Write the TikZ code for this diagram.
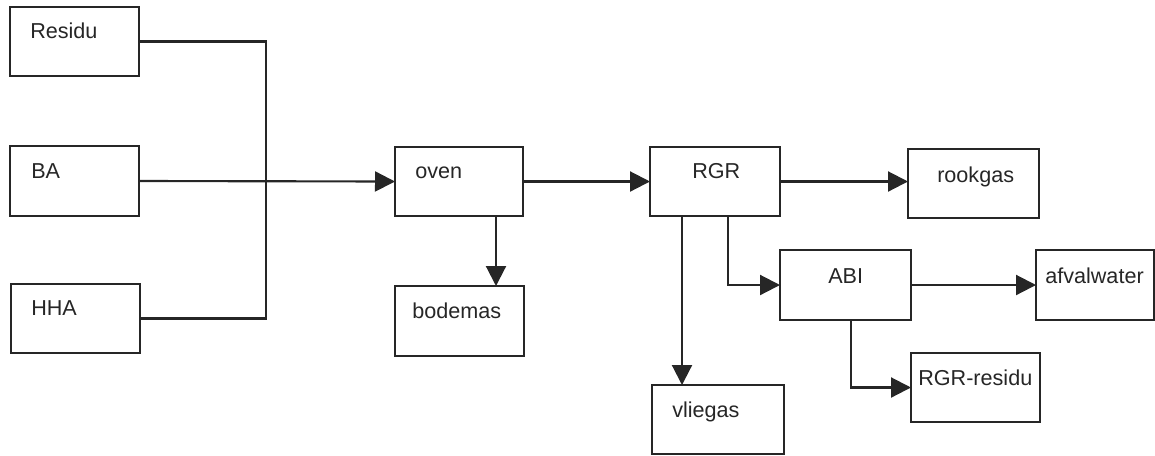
\documentclass[tikz,border=0pt]{standalone}
\usepackage{fontspec}
\setmainfont{Liberation Sans}
\usetikzlibrary{arrows.meta}
\definecolor{ink}{HTML}{262626}
\tikzset{
  box/.style 2 args={draw=ink, line width=1.6pt, rectangle, inner sep=0pt, outer sep=0pt,
    minimum width=#1*0.75pt, minimum height=#2*0.75pt},
  lbl/.style={anchor=base west, inner sep=0pt, font=\fontsize{16.2}{19}\selectfont, text=ink},
  conn/.style={draw=ink, line width=1.6pt},
  arr/.style={conn, -{Triangle[length=15pt, width=15pt]}},
}
\begin{document}
\begin{tikzpicture}[x=0.75pt, y=-0.75pt]
\useasboundingbox (0,0) rectangle (1155,455);
% boxes
\node[box={129}{69}] (residu) at (74.5,41.5) {};
\node[box={129}{70}] (ba) at (74.5,181) {};
\node[box={129}{69}] (hha) at (75.5,318.5) {};
\node[box={128}{69}] (oven) at (459,181.5) {};
\node[box={129}{70}] (bodemas) at (459.5,321) {};
\node[box={130}{69}] (rgr) at (715,181.5) {};
\node[box={132}{69}] (vliegas) at (718,419.5) {};
\node[box={131}{69}] (rookgas) at (973.5,183.5) {};
\node[box={131}{70}] (abi) at (845.5,285) {};
\node[box={118}{70}] (afval) at (1095,285) {};
\node[box={129}{69}] (rgrres) at (975.5,387.5) {};
% labels
\node[lbl] at (30,38) {Residu};
\node[lbl] at (31,178) {BA};
\node[lbl] at (31,315) {HHA};
\node[lbl] at (415,178) {oven};
\node[lbl] at (412,318) {bodemas};
\node[lbl] at (692,178) {RGR};
\node[lbl] at (672,417) {vliegas};
\node[lbl] at (937,182) {rookgas};
\node[lbl] at (828,283) {ABI};
\node[lbl] at (1045,283) {afvalwater};
\node[lbl] at (918,385) {RGR-residu};
% junction and helper coordinates
\coordinate (jn) at (266,181);
\coordinate (xbod) at (496,0);
\coordinate (xvl) at (682,0);
\coordinate (xabi) at (728,0);
\coordinate (xres) at (851,0);
% connectors
\draw[conn] (residu.east) -| (jn);
\draw[conn] (hha.east) -| (jn);
\draw[arr] (ba.east) -- (oven.west);
\draw[arr] (xbod |- oven.south) -- (xbod |- bodemas.north);
\draw[arr] (oven.east) -- (rgr.west);
\draw[arr] (rgr.east) -- (rookgas.west |- rgr.east);
\draw[arr] (xvl |- rgr.south) -- (xvl |- vliegas.north);
\draw[arr] (xabi |- rgr.south) |- (abi.west);
\draw[arr] (abi.east) -- (afval.west);
\draw[arr] (xres |- abi.south) |- (rgrres.west);
\end{tikzpicture}
\end{document}
